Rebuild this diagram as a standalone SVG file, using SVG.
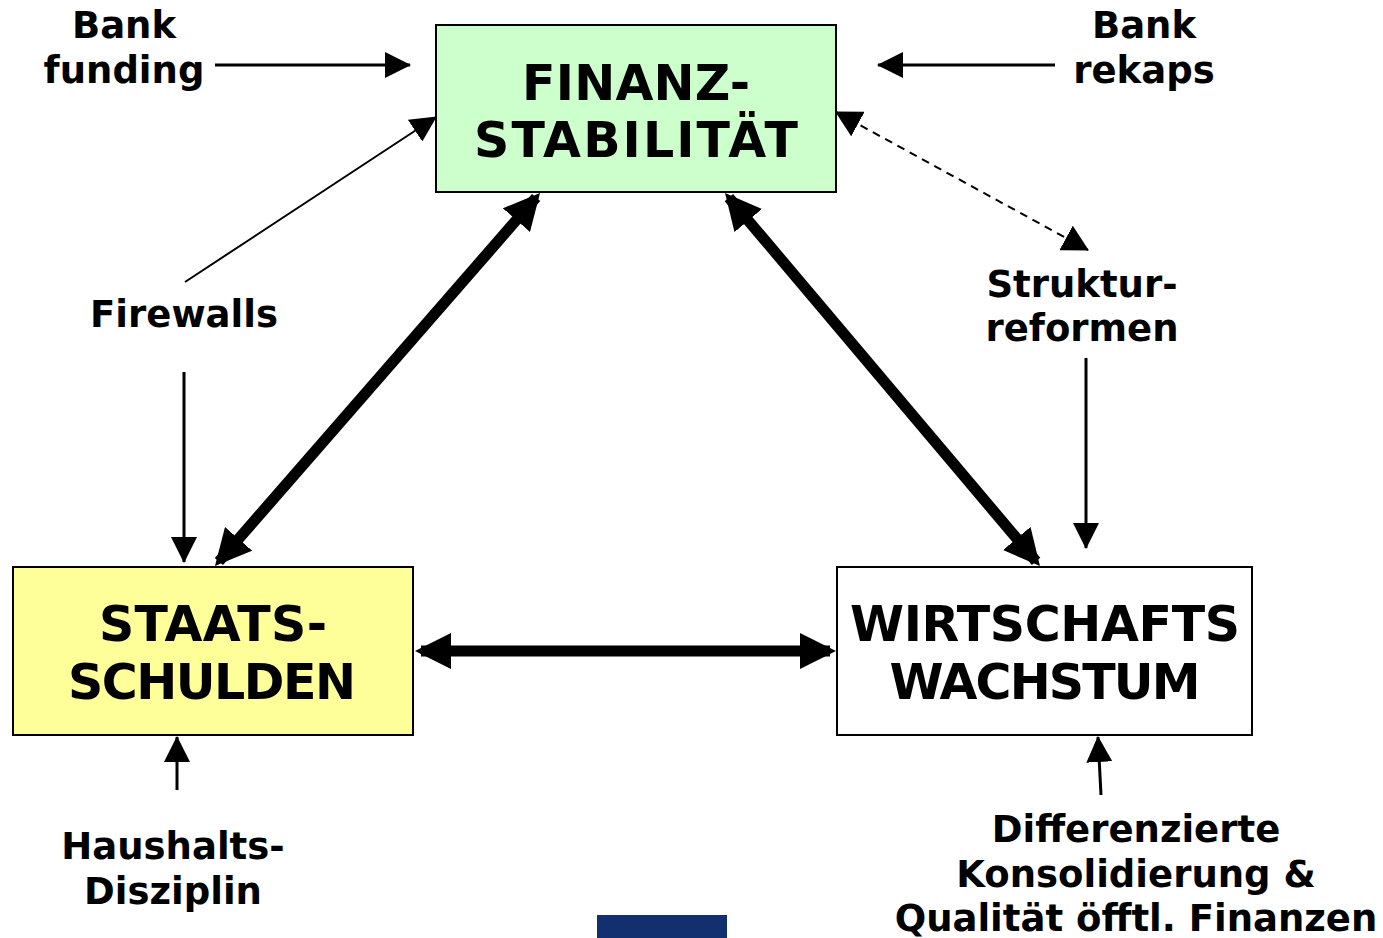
<svg xmlns="http://www.w3.org/2000/svg" width="1383" height="938" viewBox="0 0 1383 938">
<style>
text{font-family:"DejaVu Sans",Verdana,sans-serif;font-weight:bold;fill:#000;text-anchor:middle}
.big{font-size:49px}
.lbl{font-size:37px}
.box{stroke:#000;stroke-width:2}
.thin{stroke:#000;stroke-width:3;fill:none}
.fine{stroke:#000;stroke-width:2;fill:none}
.thick{stroke:#000;stroke-width:11;fill:none}
.dash{stroke:#000;stroke-width:2;fill:none;stroke-dasharray:8,6}
</style>
<defs>
<marker id="ah" markerUnits="userSpaceOnUse" markerWidth="26" markerHeight="26" refX="25" refY="13" orient="auto-start-reverse"><path d="M0,0 L26,13 L0,26 z" fill="#000"/></marker>
<marker id="ahd" markerUnits="userSpaceOnUse" markerWidth="26" markerHeight="28" refX="25" refY="14" orient="auto-start-reverse"><path d="M0,0 L26,14 L0,28 z" fill="#000"/></marker>
<marker id="ahT" markerUnits="userSpaceOnUse" markerWidth="36" markerHeight="36" refX="30" refY="18" orient="auto-start-reverse"><path d="M0,0 L36,18 L0,36 z" fill="#000"/></marker>
</defs>
<rect width="1383" height="938" fill="#fff"/>
<g id="connectors">
<line class="thick" x1="536.1" y1="197.5" x2="218.9" y2="561.5" marker-start="url(#ahT)" marker-end="url(#ahT)"/>
<line class="thick" x1="728.9" y1="197.6" x2="1036.1" y2="561.4" marker-start="url(#ahT)" marker-end="url(#ahT)"/>
<line class="thick" x1="421" y1="651" x2="830" y2="651" marker-start="url(#ahT)" marker-end="url(#ahT)"/>
<line class="thin" x1="215" y1="65" x2="410" y2="65" marker-end="url(#ah)"/>
<line class="thin" x1="1055" y1="65" x2="878" y2="65" marker-end="url(#ah)"/>
<line class="fine" x1="185" y1="282" x2="436" y2="117" marker-end="url(#ah)"/>
<line class="thin" x1="184" y1="372" x2="184" y2="562" marker-end="url(#ah)"/>
<line class="dash" x1="836" y1="112" x2="1088" y2="250" marker-start="url(#ahd)" marker-end="url(#ahd)"/>
<line class="thin" x1="1086" y1="358" x2="1086" y2="548" marker-end="url(#ah)"/>
<line class="thin" x1="177" y1="790" x2="177" y2="737" marker-end="url(#ah)"/>
<line class="thin" x1="1101" y1="795" x2="1098" y2="737" marker-end="url(#ah)"/>
</g>
<g id="finanz">
<rect class="box" x="436" y="25" width="400" height="167" fill="#CCFFCC"/>
<text class="big" x="636" y="100" textLength="228">FINANZ-</text>
<text class="big" x="636" y="157" textLength="324">STABILITÄT</text>
</g>
<g id="staats">
<rect class="box" x="13" y="567" width="400" height="168" fill="#FFFF99"/>
<text class="big" x="213" y="641" textLength="228">STAATS-</text>
<text class="big" x="212" y="699" textLength="288">SCHULDEN</text>
</g>
<g id="wirtschaft">
<rect class="box" x="837" y="567" width="415" height="168" fill="#FFFFFF"/>
<text class="big" x="1045" y="641" textLength="390">WIRTSCHAFTS</text>
<text class="big" x="1045" y="699" textLength="311">WACHSTUM</text>
</g>
<g id="bankfunding">
<text class="lbl" x="124" y="38">Bank</text>
<text class="lbl" x="124" y="83">funding</text>
</g>
<g id="bankrekaps">
<text class="lbl" x="1144" y="38">Bank</text>
<text class="lbl" x="1144" y="83">rekaps</text>
</g>
<g id="firewalls">
<text class="lbl" x="184" y="327">Firewalls</text>
</g>
<g id="strukturreformen">
<text class="lbl" x="1082" y="297">Struktur-</text>
<text class="lbl" x="1082" y="341">reformen</text>
</g>
<g id="haushalt">
<text class="lbl" x="173" y="859">Haushalts-</text>
<text class="lbl" x="173" y="904">Disziplin</text>
</g>
<g id="differenzierte">
<text class="lbl" x="1136" y="842">Differenzierte</text>
<text class="lbl" x="1136" y="887">Konsolidierung &amp;</text>
<text class="lbl" x="1136" y="931">Qualität öfftl. Finanzen</text>
</g>
<rect x="597" y="915" width="130" height="30" fill="#12306F"/>
</svg>
